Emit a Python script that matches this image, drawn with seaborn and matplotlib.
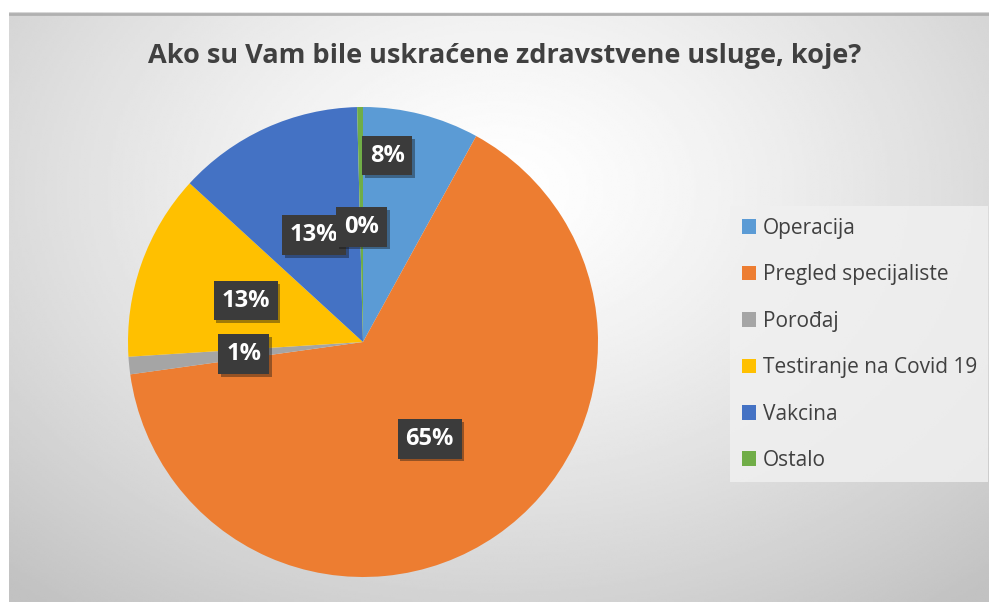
import numpy as np
import seaborn as sns
import matplotlib.pyplot as plt
import matplotlib.patheffects as pe

sns.set_style("white")
plt.rcParams['font.family'] = ['Open Sans', 'DejaVu Sans']

title = 'Ako su Vam bile uskraćene zdravstvene usluge, koje?'
categories = ['Operacija', 'Pregled specijaliste', 'Porođaj',
              'Testiranje na Covid 19', 'Vakcina', 'Ostalo']
counts = [20, 162, 3, 32, 32, 1]
colors = ['#5B9BD5', '#ED7D31', '#A5A5A5', '#FFC000', '#4472C4', '#70AD47']

# label placement (fraction of radius, angle shift in degrees)
label_dist = [0.80, 0.50, 0.51, 0.53, 0.50, 0.49]
label_shift = [7, 0, 0, 0, 0, 0]

W, H = 989, 602
fig = plt.figure(figsize=(W / 100, H / 100), dpi=100)
fig.patch.set_facecolor('white')

# radial gradient chart area
bg = fig.add_axes([9 / W, 0, 1 - 9 / W, 590 / H])
gx, gy = np.meshgrid(np.linspace(0, 1, 400), np.linspace(0, 1, 300))
d = np.sqrt(((gx - 0.5) / 0.75) ** 2 + ((gy - 0.3) / 0.9) ** 2)
g = 1.0 - 0.24 * np.clip(d, 0, 1) ** 1.3
bg.imshow(g, cmap='gray', vmin=0, vmax=1, aspect='auto',
          extent=[0, 1, 1, 0], interpolation='bilinear')
bg.axhline(0.003, color='#b0b0b0', lw=2)
bg.set_axis_off()

# pie
cx, cy, r = 363, 342, 235
ax = fig.add_axes([(cx - r) / W, (H - cy - r) / H, 2 * r / W, 2 * r / H])
pal = sns.color_palette(colors)
wedges, _ = ax.pie(counts, colors=pal, startangle=90, counterclock=False,
                   radius=1, wedgeprops=dict(linewidth=0))
ax.set_xlim(-1, 1)
ax.set_ylim(-1, 1)
ax.set_axis_off()

total = sum(counts)
for w, c, dist, sh in zip(wedges, counts, label_dist, label_shift):
    ang = np.deg2rad((w.theta1 + w.theta2) / 2 + sh)
    t = ax.text(dist * np.cos(ang), dist * np.sin(ang),
                '%d%%' % round(100 * c / total),
                ha='center', va='center', color='white',
                fontsize=17, fontweight='bold',
                bbox=dict(boxstyle='square,pad=0.33', fc='#3b3b3b', ec='none'))
    t.get_bbox_patch().set_path_effects(
        [pe.SimplePatchShadow(offset=(2, -2), alpha=0.4), pe.Normal()])

fig.text(505 / W, 1 - 56 / H, title, ha='center', va='center',
         fontsize=19.5, fontweight='bold', color='#404040')

leg = fig.legend(wedges, categories, loc='upper left',
                 bbox_to_anchor=(720 / W, 1 - 196 / H),
                 frameon=True, fontsize=15, labelspacing=1.22,
                 handlelength=0.7, handleheight=0.7, handletextpad=0.3,
                 borderpad=0.55, labelcolor='#404040')
leg.get_frame().set_facecolor('#f0f0f0')
leg.get_frame().set_edgecolor('none')
leg.get_frame().set_alpha(0.85)
leg.get_frame().set_boxstyle('square', pad=0)

fig.savefig('out.png', dpi=100)
